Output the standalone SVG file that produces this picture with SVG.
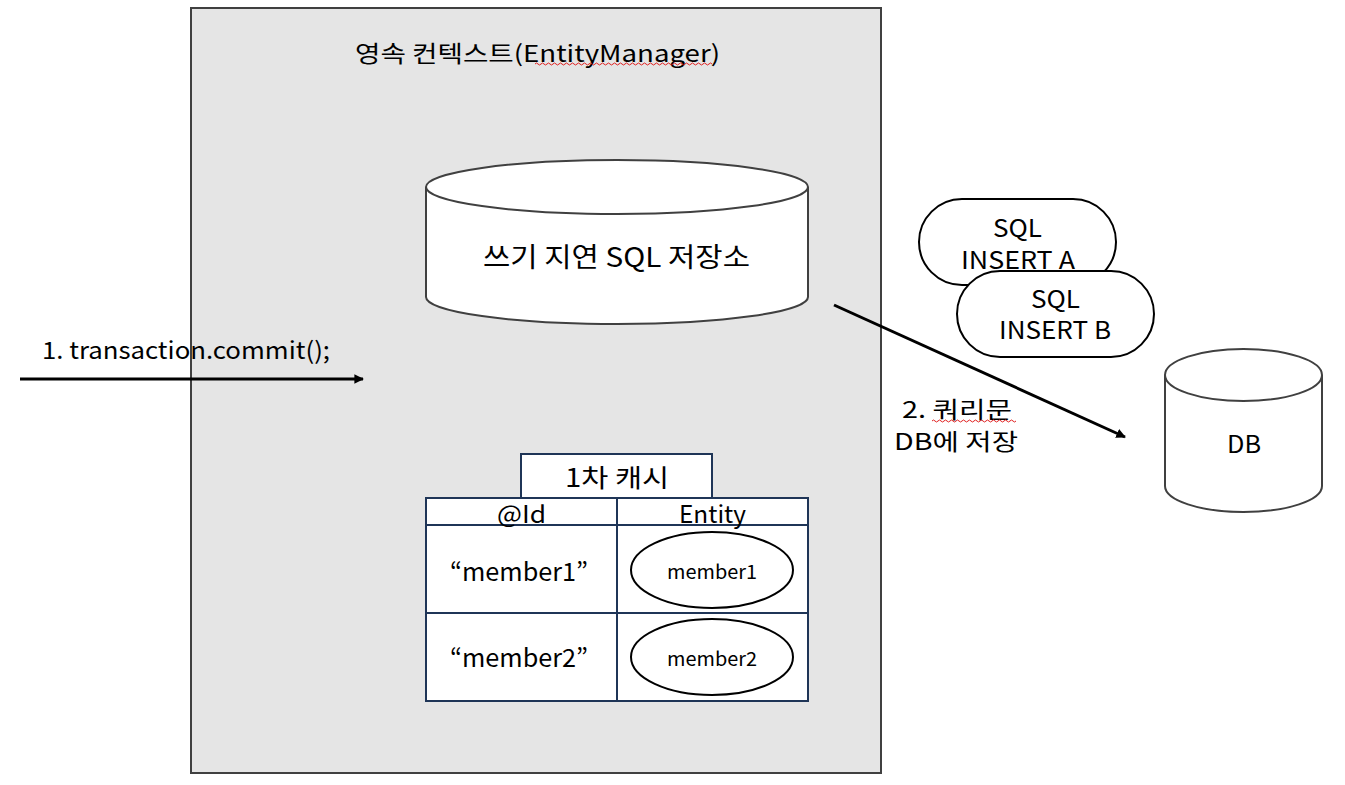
<svg xmlns="http://www.w3.org/2000/svg" width="1345" height="785" viewBox="0 0 1345 785">
<style>
text{font-family:"Noto Sans CJK KR","Noto Sans",sans-serif;fill:#000}
.t22{font-size:22px}
.t23{font-size:23px}
.t24{font-size:24px}
.t25{font-size:25px}
.t27{font-size:27px}
.t19{font-size:19px}
.cyl{fill:#fff;stroke:#404040;stroke-width:2}
.pill{fill:#fff;stroke:#000;stroke-width:2}
.nav{fill:#fff;stroke:#1f3557;stroke-width:2}
.ell{fill:#fff;stroke:#000;stroke-width:2}
.conn{stroke:#000;stroke-width:3;fill:none}
.sq{stroke:#e02020;stroke-width:1;fill:none}
</style>
<defs>
<marker id="ah" viewBox="0 0 10 10" refX="9" refY="5" markerWidth="3.2" markerHeight="3.2" orient="auto" markerUnits="strokeWidth">
<path d="M0,0L10,5L0,10z" fill="#000"/>
</marker>
</defs>
<rect width="1345" height="785" fill="#fff"/>
<g id="persistence-context">
<rect x="191" y="8" width="690" height="765" fill="#e5e5e5" stroke="#404040" stroke-width="2"/>
<text class="t23" x="355" y="62" textLength="365" lengthAdjust="spacingAndGlyphs">영속 컨텍스트(EntityManager)</text>
<path class="sq" d="M535,64 q1.5,-2 3,0 t3,0 t3,0 t3,0 t3,0 t3,0 t3,0 t3,0 t3,0 t3,0 t3,0 t3,0 t3,0 t3,0 t3,0 t3,0 t3,0 t3,0 t3,0 t3,0 t3,0 t3,0 t3,0 t3,0 t3,0 t3,0 t3,0 t3,0 t3,0 t3,0 t3,0 t3,0 t3,0 t3,0 t3,0 t3,0 t3,0 t3,0 t3,0 t3,0 t3,0 t3,0 t3,0 t3,0 t3,0 t3,0 t3,0 t3,0 t3,0 t3,0 t3,0 t3,0 t3,0 t3,0 t3,0 t3,0 t3,0 t3,0 t3,0"/>
</g>
<g id="sql-store">
<path class="cyl" d="M426,187 L426,297 A191,27 0 0 0 808,297 L808,187"/>
<ellipse class="cyl" cx="617" cy="187" rx="191" ry="27"/>
<text class="t27" x="483" y="267" textLength="267" lengthAdjust="spacingAndGlyphs">쓰기 지연 SQL 저장소</text>
</g>
<g id="first-cache">
<rect class="nav" x="521" y="454" width="191" height="44"/>
<text class="t25" x="565" y="487" textLength="104" lengthAdjust="spacingAndGlyphs">1차 캐시</text>
<rect class="nav" x="426" y="498" width="382" height="203"/>
<line class="nav" x1="426" y1="525" x2="808" y2="525"/>
<line class="nav" x1="426" y1="613" x2="808" y2="613"/>
<line class="nav" x1="617" y1="498" x2="617" y2="701"/>
<text class="t24" x="497" y="523" textLength="49" lengthAdjust="spacingAndGlyphs">@Id</text>
<text class="t24" x="679" y="523" textLength="67" lengthAdjust="spacingAndGlyphs">Entity</text>
<text class="t25" x="450" y="581" textLength="138" lengthAdjust="spacingAndGlyphs">“member1”</text>
<text class="t25" x="450" y="667" textLength="138" lengthAdjust="spacingAndGlyphs">“member2”</text>
<ellipse class="ell" cx="712" cy="570" rx="81" ry="38"/>
<text class="t19" x="667" y="579" textLength="90" lengthAdjust="spacingAndGlyphs">member1</text>
<ellipse class="ell" cx="712" cy="657" rx="81" ry="38"/>
<text class="t19" x="667" y="666" textLength="90" lengthAdjust="spacingAndGlyphs">member2</text>
</g>
<g id="sql-a">
<rect class="pill" x="919" y="199" width="197" height="86" rx="43"/>
<text class="t24" x="993" y="237" textLength="49" lengthAdjust="spacingAndGlyphs">SQL</text>
<text class="t24" x="961" y="269" textLength="114" lengthAdjust="spacingAndGlyphs">INSERT A</text>
</g>
<g id="sql-b">
<rect class="pill" x="957" y="271" width="197" height="86" rx="43"/>
<text class="t24" x="1031" y="308" textLength="49" lengthAdjust="spacingAndGlyphs">SQL</text>
<text class="t24" x="999" y="339" textLength="112" lengthAdjust="spacingAndGlyphs">INSERT B</text>
</g>
<g id="db">
<path class="cyl" d="M1165,375 L1165,486 A78.5,26 0 0 0 1322,486 L1322,375"/>
<ellipse class="cyl" cx="1243.5" cy="375" rx="78.5" ry="26"/>
<text class="t24" x="1227" y="453" textLength="34" lengthAdjust="spacingAndGlyphs">DB</text>
</g>
<g id="connectors">
<line class="conn" x1="20" y1="379" x2="363" y2="379" marker-end="url(#ah)"/>
<text class="t24" x="42" y="359" textLength="288" lengthAdjust="spacingAndGlyphs">1. transaction.commit();</text>
<line class="conn" x1="834" y1="305" x2="1125" y2="437" marker-end="url(#ah)"/>
<text class="t23" x="902" y="418" textLength="110" lengthAdjust="spacingAndGlyphs">2. 쿼리문</text>
<path class="sq" d="M932,421 q1.5,-2 3,0 t3,0 t3,0 t3,0 t3,0 t3,0 t3,0 t3,0 t3,0 t3,0 t3,0 t3,0 t3,0 t3,0 t3,0 t3,0 t3,0 t3,0 t3,0 t3,0 t3,0 t3,0 t3,0 t3,0 t3,0 t3,0 t3,0 t3,0"/>
<text class="t23" x="894" y="450" textLength="124" lengthAdjust="spacingAndGlyphs">DB에 저장</text>
</g>
</svg>
